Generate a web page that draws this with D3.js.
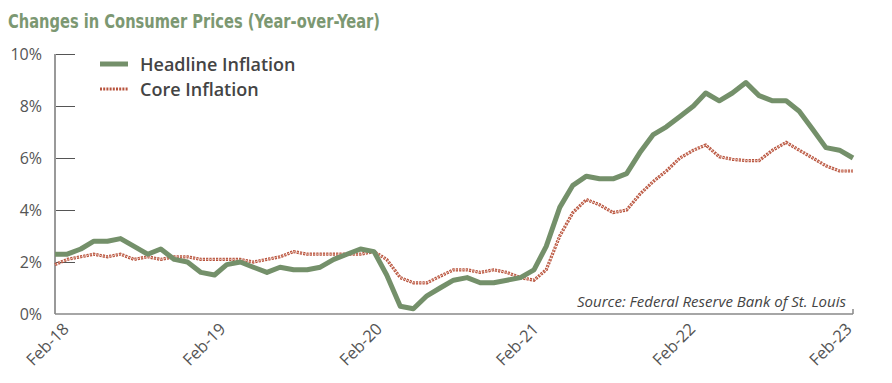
<!DOCTYPE html>
<html>
<head>
<meta charset="utf-8">
<script src="https://cdn.jsdelivr.net/npm/d3@7"></script>
<style>
  body { margin: 0; background: #fff; }
  svg { display: block; font-family: "Open Sans", "Noto Sans", sans-serif; }
</style>
</head>
<body>
<div id="chart"></div>
<script>
// Data (monthly Feb-18 .. Feb-23)
const startMonth = new Date(2018, 1, 1);
const endMonth = new Date(2023, 1, 1);
const months = d3.timeMonth.range(startMonth, d3.timeMonth.offset(endMonth, 1));

const headline = [
  2.3, 2.3, 2.5, 2.8, 2.8, 2.9, 2.6, 2.3, 2.5, 2.1, 2.0, 1.6,
  1.5, 1.9, 2.0, 1.8, 1.6, 1.8, 1.7, 1.7, 1.8, 2.1, 2.3, 2.5,
  2.4, 1.5, 0.3, 0.2, 0.7, 1.0, 1.3, 1.4, 1.2, 1.2, 1.3, 1.4,
  1.7, 2.6, 4.1, 4.95, 5.3, 5.2, 5.2, 5.4, 6.2, 6.9, 7.2, 7.6,
  8.0, 8.5, 8.2, 8.5, 8.9, 8.4, 8.2, 8.2, 7.8, 7.1, 6.4, 6.3,
  6.0
];
const core = [
  1.9, 2.1, 2.2, 2.3, 2.2, 2.3, 2.1, 2.2, 2.1, 2.2, 2.2, 2.1,
  2.1, 2.1, 2.1, 2.0, 2.1, 2.2, 2.4, 2.3, 2.3, 2.3, 2.3, 2.3,
  2.4, 2.1, 1.4, 1.2, 1.2, 1.45, 1.7, 1.7, 1.6, 1.7, 1.6, 1.4,
  1.3, 1.7, 3.0, 3.9, 4.4, 4.2, 3.9, 4.0, 4.6, 5.1, 5.5, 6.0,
  6.3, 6.5, 6.05, 5.95, 5.9, 5.9, 6.3, 6.6, 6.3, 6.0, 5.7, 5.5,
  5.5
];
const xTickLabels = ["Feb-18", "Feb-19", "Feb-20", "Feb-21", "Feb-22", "Feb-23"];
const yTicks = [0, 2, 4, 6, 8, 10];
const seriesNames = ["Headline Inflation", "Core Inflation"];

const W = 892, H = 383;
const green = "#74906a", red = "#b8543e";

const svg = d3.select("#chart").append("svg")
  .attr("width", W).attr("height", H);

// Scales
const x = d3.scaleTime().domain([startMonth, endMonth]).range([55, 853]);
const y = d3.scaleLinear().domain([0, 10]).range([314, 54]);
const xLabel = d3.scalePoint().domain(xTickLabels).range([70, 853]);

// Title
svg.append("text")
  .attr("x", 8).attr("y", 28)
  .attr("textLength", 372).attr("lengthAdjust", "spacingAndGlyphs")
  .style("font-family", "'Liberation Sans Narrow', 'DejaVu Sans Condensed', sans-serif")
  .style("font-weight", "bold")
  .style("font-size", "20px")
  .attr("fill", "#7c9872")
  .text("Changes in Consumer Prices (Year-over-Year)");

// Y axis
const gy = svg.append("g")
  .attr("transform", `translate(55,0)`)
  .call(d3.axisRight(y).tickValues(yTicks).tickSize(20).tickFormat(""));
gy.select(".domain").remove();
gy.selectAll(".tick line").attr("stroke", "#555").attr("stroke-width", 1);
gy.selectAll(".tick").filter(d => d === 0).remove();

svg.append("line")
  .attr("x1", 55).attr("x2", 55).attr("y1", y(10)).attr("y2", y(0))
  .attr("stroke", "#999").attr("stroke-width", 2);

svg.append("g").selectAll("text")
  .data(yTicks)
  .join("text")
  .attr("x", 42).attr("y", d => y(d) + 6)
  .attr("text-anchor", "end")
  .attr("fill", "#555")
  .style("font-size", "16px")
  .text(d => d + "%");

// X axis baseline
svg.append("line")
  .attr("x1", 55).attr("x2", 853).attr("y1", y(0)).attr("y2", y(0))
  .attr("stroke", "#888").attr("stroke-width", 1.5);
svg.append("line")
  .attr("x1", 853).attr("x2", 853).attr("y1", y(0)).attr("y2", y(0) - 5)
  .attr("stroke", "#888").attr("stroke-width", 1.5);

svg.append("g").selectAll("text")
  .data(xTickLabels)
  .join("text")
  .attr("transform", d => `translate(${xLabel(d)},330) rotate(-45)`)
  .attr("text-anchor", "end")
  .attr("fill", "#555")
  .style("font-size", "16.5px")
  .text(d => d);

// Source
svg.append("text")
  .attr("x", 846).attr("y", 307)
  .attr("text-anchor", "end")
  .attr("textLength", 269).attr("lengthAdjust", "spacingAndGlyphs")
  .style("font-style", "italic")
  .style("font-size", "15px")
  .attr("fill", "#444")
  .text("Source: Federal Reserve Bank of St. Louis");

// Lines
const line = d3.line()
  .x((d, i) => x(months[i]))
  .y(d => y(d));

svg.append("path")
  .datum(core)
  .attr("d", line)
  .attr("fill", "none")
  .attr("stroke", red)
  .attr("stroke-width", 3.2)
  .attr("stroke-dasharray", "2.2,1.1");
svg.append("path")
  .datum(core)
  .attr("d", line)
  .attr("fill", "none")
  .attr("stroke", "#f0c8bb")
  .attr("stroke-width", 1)
  .attr("stroke-dasharray", "1.2,2.1")
  .attr("stroke-dashoffset", -0.5);

svg.append("path")
  .datum(headline)
  .attr("d", line)
  .attr("fill", "none")
  .attr("stroke", green)
  .attr("stroke-width", 5)
  .attr("stroke-linejoin", "round");

// Legend
const legend = svg.append("g");
legend.append("line")
  .attr("x1", 100).attr("x2", 128).attr("y1", 64).attr("y2", 64)
  .attr("stroke", green).attr("stroke-width", 5);
legend.append("line")
  .attr("x1", 100).attr("x2", 128).attr("y1", 89).attr("y2", 89)
  .attr("stroke", red).attr("stroke-width", 3)
  .attr("stroke-dasharray", "2,1.2");
legend.selectAll("text")
  .data(seriesNames)
  .join("text")
  .attr("x", 140).attr("y", (d, i) => 71 + i * 25)
  .attr("fill", "#444")
  .style("font-size", "18px")
  .style("font-weight", 600)
  .text(d => d);
</script>
</body>
</html>
